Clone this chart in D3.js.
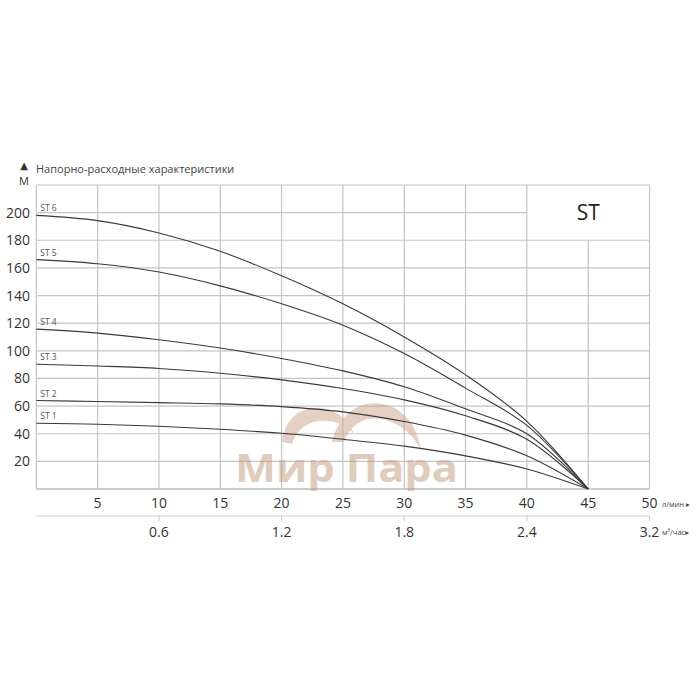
<!DOCTYPE html>
<html><head><meta charset="utf-8">
<script src="https://cdn.jsdelivr.net/npm/d3@7"></script>
<style>html,body{margin:0;padding:0;background:#fff;}svg{display:block;}</style>
</head><body>
<svg id="chart" width="700" height="700"></svg>
<script>
// ---- data ----
const flow = [0, 5, 10, 15, 20, 25, 30, 35, 40, 45];          // l/min
const seriesNames = ["ST 1", "ST 2", "ST 3", "ST 4", "ST 5", "ST 6"];
const st1 = [47.6, 46.9, 45.4, 43.2, 40.3, 36.0, 31.0, 24.0, 14.5, 0];
const st2 = [64.0, 63.3, 62.5, 61.6, 59.6, 55.8, 48.8, 39.0, 24.0, 0];
const st3 = [90.3, 89.0, 87.2, 83.8, 79.0, 72.7, 64.5, 53.0, 36.0, 0];
const st4 = [115.7, 112.8, 108.0, 102.0, 94.5, 85.5, 74.0, 58.0, 40.0, 0];
const st5 = [166.0, 163.0, 157.0, 147.0, 134.0, 118.5, 98.0, 73.0, 46.0, 0];
const st6 = [198.0, 194.2, 185.3, 172.0, 154.3, 134.0, 110.0, 82.6, 49.0, 0];
const seriesValues = [st1, st2, st3, st4, st5, st6];
const yTicks = [20, 40, 60, 80, 100, 120, 140, 160, 180, 200];
const xTicks = [5, 10, 15, 20, 25, 30, 35, 40, 45, 50];
const m3Labels = ["0.6", "1.2", "1.8", "2.4", "3.2"];
const m3AtFlow = [10, 20, 30, 40, 50];                         // l/min position of each m³/h label
const titleText = "Напорно-расходные характеристики";
const yUnit = "М";
const xUnit1 = "л/мин";
const xUnit2 = "м³/час";
const boxLabel = "ST";
const watermark = "Мир Пара";

// ---- layout ----
const svg = d3.select("#chart");
const x = d3.scaleLinear().domain([0, 50]).range([36.3, 649.5]);
const y = d3.scaleLinear().domain([0, 220]).range([489, 185]);
const gridColor = "#c4c4c4";
const font = "'Open Sans', 'DejaVu Sans', sans-serif";

const g = svg.append("g");

// horizontal grid lines
const hLines = yTicks.concat([220]);
g.selectAll("line.h").data(hLines).enter().append("line")
  .attr("x1", x(0))
  .attr("x2", d => d === 200 ? x(40) : x(50))
  .attr("y1", d => y(d)).attr("y2", d => y(d))
  .attr("stroke", gridColor).attr("stroke-width", 1.2);

// vertical grid lines
const vLines = [0].concat(xTicks);
g.selectAll("line.v").data(vLines).enter().append("line")
  .attr("x1", d => x(d)).attr("x2", d => x(d))
  .attr("y1", d => d === 45 ? y(180) : y(220))
  .attr("y2", y(0))
  .attr("stroke", gridColor).attr("stroke-width", 1.2);

// bottom axis line
g.append("line").attr("x1", x(0)).attr("x2", x(50)).attr("y1", y(0)).attr("y2", y(0))
  .attr("stroke", "#bdbdbd").attr("stroke-width", 1.4);

// box label
g.append("text").attr("x", (x(40) + x(50)) / 2).attr("y", (y(220) + y(180)) / 2 + 7)
  .attr("text-anchor", "middle").attr("font-family", font).attr("font-size", 21)
  .attr("fill", "#222").text(boxLabel);

// watermark
const wm = svg.append("g").attr("opacity", 0.5);
wm.append("path")
  .attr("d", "M282,442 C286,400 338,396 354,434 C336,414 300,416 292,444 Z")
  .attr("fill", "#caa488");
wm.append("path")
  .attr("d", "M332,442 C344,388 412,390 421,450 C404,416 358,404 344,442 Z")
  .attr("fill", "#caa488");
wm.append("text").attr("x", 235).attr("y", 482)
  .attr("textLength", 223).attr("lengthAdjust", "spacingAndGlyphs")
  .attr("font-family", "'Open Sans', sans-serif").attr("font-weight", 700)
  .attr("font-size", 39).attr("fill", "#c39a7c").text(watermark);

// curves
const line = d3.line().x((d, i) => x(flow[i])).y(d => y(d)).curve(d3.curveCatmullRom.alpha(0.5));
svg.append("g").selectAll("path").data(seriesValues).enter().append("path")
  .attr("d", d => line(d)).attr("fill", "none").attr("stroke", "#3a3a3a").attr("stroke-width", 1.1);

// series labels
svg.append("g").selectAll("text").data(seriesValues).enter().append("text")
  .attr("x", x(0) + 4).attr("y", d => y(d[0]) - 4)
  .attr("font-family", font).attr("font-size", 8.5).attr("fill", "#555")
  .text((d, i) => seriesNames[i]);

// y tick labels
svg.append("g").selectAll("text").data(yTicks).enter().append("text")
  .attr("x", 30).attr("y", d => y(d) + 5)
  .attr("text-anchor", "end").attr("font-family", font).attr("font-size", 14)
  .attr("fill", "#333").text(d => d);

// x tick labels
svg.append("g").selectAll("text").data(xTicks).enter().append("text")
  .attr("x", d => x(d)).attr("y", 508)
  .attr("text-anchor", "middle").attr("font-family", font).attr("font-size", 14)
  .attr("fill", "#333").text(d => d);

// unit labels for x axes
svg.append("text").attr("x", 662).attr("y", 507).attr("font-family", font).attr("font-size", 7.5)
  .attr("fill", "#444").text(xUnit1 + " ▸");
svg.append("text").attr("x", 662).attr("y", 535).attr("font-family", font).attr("font-size", 7.5)
  .attr("fill", "#444").text(xUnit2 + "▸");

// second axis (m³/h)
svg.append("line").attr("x1", x(0)).attr("x2", x(50)).attr("y1", 516).attr("y2", 516)
  .attr("stroke", "#cfcfcf").attr("stroke-width", 1.2);
svg.append("g").selectAll("line").data(m3AtFlow).enter().append("line")
  .attr("x1", d => x(d)).attr("x2", d => x(d)).attr("y1", 516).attr("y2", 521)
  .attr("stroke", "#cfcfcf").attr("stroke-width", 1.2);
svg.append("g").selectAll("text").data(m3Labels).enter().append("text")
  .attr("x", (d, i) => x(m3AtFlow[i])).attr("y", 536.5)
  .attr("text-anchor", "middle").attr("font-family", font).attr("font-size", 14)
  .attr("fill", "#333").text(d => d);

// title and y unit
svg.append("text").attr("x", 36).attr("y", 173).attr("font-family", font).attr("font-size", 11)
  .attr("fill", "#444").text(titleText);
svg.append("text").attr("x", 24).attr("y", 169).attr("text-anchor", "middle").attr("font-family", font)
  .attr("font-size", 10).attr("fill", "#333").text("▲");
svg.append("text").attr("x", 24).attr("y", 185).attr("text-anchor", "middle").attr("font-family", font)
  .attr("font-size", 11).attr("fill", "#333").text(yUnit);
</script>
</body></html>
